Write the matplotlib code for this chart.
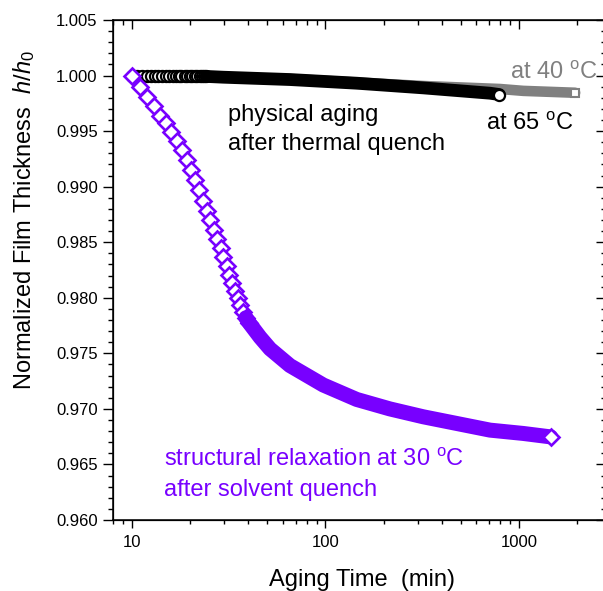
import numpy as np
import matplotlib
matplotlib.use('Agg')
import matplotlib.pyplot as plt
from matplotlib.ticker import LogLocator, NullFormatter, MultipleLocator, FormatStrFormatter

plt.rcParams['font.family'] = ['Liberation Sans', 'DejaVu Sans']
plt.rcParams['mathtext.fontset'] = 'custom'
plt.rcParams['mathtext.rm'] = 'Liberation Sans'
plt.rcParams['mathtext.it'] = 'Liberation Sans:italic'

violet = '#7800ff'
grey = '#808080'

# structural relaxation at 30 C after solvent quench
# single diamonds that can still be told apart
t_solv = [10.0, 11.0, 12.0, 13.0, 13.95, 14.98, 16.0, 17.1, 18.1, 19.2, 20.3, 21.2,
          22.1, 23.2, 24.3, 25.4, 26.5, 27.6, 28.7, 29.7, 30.8, 31.8, 32.9, 34.0,
          35.1, 36.3, 37.5, 38.8, 40.1]
h_solv = [1.0000, 0.99901, 0.99811, 0.99730, 0.99640, 0.99569, 0.99492, 0.99411,
          0.99326, 0.99236, 0.99146, 0.99056, 0.98966, 0.98867, 0.98782, 0.98697,
          0.98613, 0.98532, 0.98445, 0.98364, 0.98283, 0.98207, 0.98135, 0.98063,
          0.97996, 0.97933, 0.97874, 0.97820, 0.97775]
# dense part, markers merge into a band
t_solv_band = [38.8, 40.7, 45.9, 51.7, 65.5, 97.4, 145, 215, 320, 476, 708, 1052, 1458]
h_solv_band = [0.97820, 0.97765, 0.97645, 0.97540, 0.97390, 0.97215, 0.97085,
               0.97000, 0.96929, 0.96869, 0.96809, 0.96779, 0.96748]

# physical aging at 65 C
t_65 = [10.0, 10.6, 11.3, 11.9, 12.5, 13.1, 13.7, 14.3, 15.0, 15.6, 16.2, 16.8,
        17.4, 18.0, 18.7, 19.3, 19.9, 20.5, 21.1, 21.7, 22.4, 23.0, 23.6, 24.2]
h_65 = [1.00000, 1.00000, 1.00000, 0.99999, 0.99999, 0.99999, 0.99998, 0.99998,
        0.99998, 0.99997, 0.99997, 0.99997, 0.99996, 0.99996, 0.99996, 0.99995,
        0.99995, 0.99995, 0.99994, 0.99994, 0.99993, 0.99993, 0.99992, 0.99992]
t_65_band = [24.2, 29.6, 65.5, 145, 320, 708, 791]
h_65_band = [0.99992, 0.99985, 0.99964, 0.99931, 0.99889, 0.99841, 0.99829]

# physical aging at 40 C
t_40_band = [10.0, 65.5, 320, 796, 1052, 1950]
h_40_band = [1.0000, 0.99969, 0.99906, 0.99879, 0.99862, 0.99845]

fig = plt.figure(figsize=(6.03, 5.91), dpi=100)
ax = fig.add_axes([0.1874, 0.1201, 0.8176, 0.8461])

# 40 C
ax.plot(t_40_band, h_40_band, color=grey, lw=7.6, solid_capstyle='round',
        solid_joinstyle='round', zorder=2)
ax.plot(t_40_band[-1], h_40_band[-1], 's', ms=5.4, mfc='white', mec=grey, mew=1.5, zorder=2.1)

# 65 C
ax.plot(t_65, h_65, 'o', ms=8.0, mfc='white', mec='black', mew=1.6, zorder=3)
ax.plot(t_65_band, h_65_band, color='black', lw=9.2, solid_capstyle='round',
        solid_joinstyle='round', zorder=3.1)
ax.plot(t_65_band[-1], h_65_band[-1], 'o', ms=8.0, mfc='white', mec='black', mew=1.6, zorder=3.2)

# 30 C solvent quench
ax.plot(t_solv, h_solv, 'D', ms=8.6, mfc='white', mec=violet, mew=1.9, zorder=4)
ax.plot(t_solv_band, h_solv_band, color=violet, lw=10.8, solid_capstyle='round',
        solid_joinstyle='round', zorder=4.1)
ax.plot(t_solv_band[-1], h_solv_band[-1], 'D', ms=8.6, mfc='white', mec=violet, mew=1.9, zorder=4.2)

ax.set_xscale('log')
ax.set_xlim(7.98, 2815)
ax.set_ylim(0.960, 1.005)

ax.set_xticks([10, 100, 1000], ['10', '100', '1000'])
ax.xaxis.set_minor_locator(LogLocator(base=10, subs=np.arange(2, 10)))
ax.xaxis.set_minor_formatter(NullFormatter())
ax.yaxis.set_major_locator(MultipleLocator(0.005))
ax.yaxis.set_minor_locator(MultipleLocator(0.001))
ax.yaxis.set_major_formatter(FormatStrFormatter('%.3f'))

ax.tick_params(axis='x', which='major', direction='out', length=6, width=1, labelsize=12, pad=5)
ax.tick_params(axis='x', which='minor', direction='out', length=3, width=1)
ax.tick_params(axis='y', which='major', direction='out', length=7, width=1, labelsize=12, pad=4)
ax.tick_params(axis='y', which='minor', direction='out', length=3.6, width=1)
for s in ax.spines.values():
    s.set_linewidth(1.1)

# inward ticks on top and right
axt = ax.twiny()
axt.set_xscale('log')
axt.set_xlim(ax.get_xlim())
axt.set_xticks([10, 100, 1000])
axt.xaxis.set_minor_locator(LogLocator(base=10, subs=np.arange(2, 10)))
axt.tick_params(axis='x', which='major', direction='in', length=6.5, width=1, labeltop=False)
axt.tick_params(axis='x', which='minor', direction='in', length=3.5, width=1)
axr = ax.twinx()
axr.set_ylim(ax.get_ylim())
axr.yaxis.set_major_locator(MultipleLocator(0.005))
axr.yaxis.set_minor_locator(MultipleLocator(0.001))
axr.tick_params(axis='y', which='major', direction='in', length=7, width=1, labelright=False)
axr.tick_params(axis='y', which='minor', direction='in', length=3.6, width=1)

ax.set_xlabel('Aging Time  (min)', fontsize=17)
ax.xaxis.set_label_coords(0.506, -0.098)
ax.set_ylabel(r'Normalized Film Thickness  $h/h_{\rm 0}$', fontsize=17)
ax.yaxis.set_label_coords(-0.155, 0.60)

ax.text(898, 0.99970, r'at 40 $^{\rm o}$C', color=grey, fontsize=17, ha='left', va='baseline', zorder=5)
ax.text(675, 0.99512, r'at 65 $^{\rm o}$C', color='black', fontsize=17, ha='left', va='baseline', zorder=5)
ax.text(31.5, 0.99589, 'physical aging', color='black', fontsize=17, ha='left', va='baseline', zorder=5)
ax.text(31.5, 0.99326, 'after thermal quench', color='black', fontsize=17, ha='left', va='baseline', zorder=5)
ax.text(14.6, 0.96485, r'structural relaxation at 30 $^{\rm o}$C', color=violet, fontsize=17,
        ha='left', va='baseline', zorder=5)
ax.text(14.6, 0.96216, 'after solvent quench', color=violet, fontsize=17, ha='left', va='baseline', zorder=5)

fig.savefig('out.png', dpi=100)
